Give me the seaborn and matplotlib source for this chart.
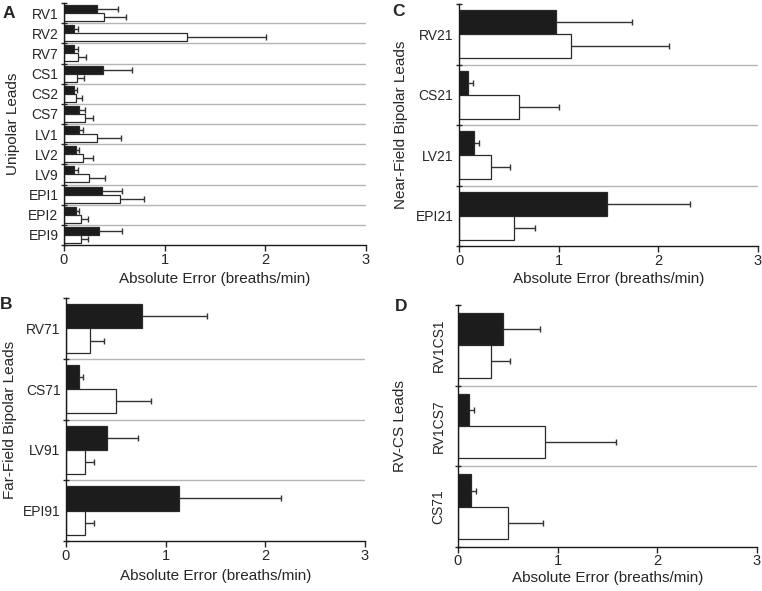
import pandas as pd
import seaborn as sns
import matplotlib.pyplot as plt

# ---- data ----
# A: unipolar leads
uni_leads = ['RV1', 'RV2', 'RV7', 'CS1', 'CS2', 'CS7', 'LV1', 'LV2', 'LV9', 'EPI1', 'EPI2', 'EPI9']
uni_black = [0.33, 0.10, 0.10, 0.39, 0.10, 0.15, 0.15, 0.12, 0.10, 0.38, 0.12, 0.35]
uni_black_err = [0.21, 0.04, 0.04, 0.29, 0.03, 0.06, 0.04, 0.03, 0.04, 0.20, 0.03, 0.23]
uni_white = [0.40, 1.22, 0.14, 0.13, 0.12, 0.21, 0.33, 0.19, 0.25, 0.56, 0.17, 0.17]
uni_white_err = [0.22, 0.79, 0.08, 0.07, 0.06, 0.08, 0.24, 0.10, 0.16, 0.23, 0.07, 0.07]

# B: far-field bipolar leads
far_leads = ['RV71', 'CS71', 'LV91', 'EPI91']
far_black = [0.76, 0.13, 0.41, 1.13]
far_black_err = [0.65, 0.04, 0.31, 1.03]
far_white = [0.24, 0.50, 0.19, 0.19]
far_white_err = [0.14, 0.35, 0.09, 0.09]

# C: near-field bipolar leads
near_leads = ['RV21', 'CS21', 'LV21', 'EPI21']
near_black = [0.97, 0.09, 0.15, 1.48]
near_black_err = [0.77, 0.05, 0.05, 0.84]
near_white = [1.12, 0.60, 0.32, 0.55]
near_white_err = [0.99, 0.40, 0.19, 0.21]

# D: RV-CS leads
rvcs_leads = ['RV1CS1', 'RV1CS7', 'CS71']
rvcs_black = [0.45, 0.11, 0.13]
rvcs_black_err = [0.37, 0.05, 0.05]
rvcs_white = [0.33, 0.87, 0.50]
rvcs_white_err = [0.19, 0.72, 0.35]

sns.set_style('ticks')
plt.rcParams['font.family'] = ['Liberation Sans', 'DejaVu Sans']

W, H = 762, 591
fig = plt.figure(figsize=(W / 100, H / 100), dpi=100)


def add_ax(left, right, top, bottom):
    # pixel box -> figure fractions
    return fig.add_axes([left / W, 1 - bottom / H, (right - left) / W, (bottom - top) / H])


def draw_panel(ax, leads, black, black_err, white, white_err, ylabel, letter,
               box, ylab_px, xlab_px, letter_px, rotate=False):
    n = len(leads)
    df = pd.DataFrame({
        'lead': leads * 2,
        'value': black + white,
        'series': ['filled'] * n + ['open'] * n,
    })
    sns.barplot(data=df, x='value', y='lead', hue='series', orient='h',
                palette={'filled': '#1c1c1c', 'open': 'white'},
                edgecolor='#2a2a2a', linewidth=0.9, width=0.8,
                errorbar=None, legend=False, ax=ax)

    # one-sided error bars from the bar ends
    errs = black_err + white_err
    for p, e in zip(ax.patches, errs):
        yc = p.get_y() + p.get_height() / 2
        xe = p.get_width()
        ax.hlines(yc, xe, xe + e, color='#333333', lw=1, zorder=3)
        ax.plot([xe + e], [yc], marker='|', ms=5, mew=1, color='#333333', zorder=3)

    for i in range(n - 1):
        ax.axhline(i + 0.5, color='#b5b5b5', lw=1, zorder=0)

    ax.set_xlim(0, 3)
    ax.set_ylim(n - 0.5, -0.5)
    ax.set_xticks([0, 1, 2, 3])
    ax.set_yticks([i - 0.5 for i in range(n + 1)], minor=True)
    ax.tick_params(axis='y', which='major', length=0, labelsize=10,
                   pad=9 if rotate else 4)
    ax.tick_params(axis='y', which='minor', direction='inout', length=5, width=1)
    ax.tick_params(axis='x', direction='out', length=4, width=1, labelsize=10.5,
                   pad=1 if rotate else 2)
    if rotate:
        ax.set_yticks(range(n))
        ax.set_yticklabels(leads, rotation=90, va='center')

    for s in ['top', 'right']:
        ax.spines[s].set_visible(False)
    for s in ['left', 'bottom']:
        ax.spines[s].set_color('#1a1a1a')
        ax.spines[s].set_linewidth(1)

    left, right, top, bottom = box
    ax.set_xlabel('Absolute Error (breaths/min)', fontsize=11)
    ax.set_ylabel(ylabel, fontsize=11)
    ax.xaxis.set_label_coords(0.5, (bottom - xlab_px) / (bottom - top))
    ax.yaxis.set_label_coords((ylab_px - left) / (right - left), 0.5)
    fig.text(letter_px[0] / W, 1 - letter_px[1] / H, letter, fontsize=12.5,
             fontweight='bold', ha='left', va='top')


box_a = (64, 366, 3, 245)
box_c = (459, 758, 4, 246)
box_b = (66, 365, 298, 541)
box_d = (458, 757, 305, 547)

ax_a = add_ax(*box_a)
ax_c = add_ax(*box_c)
ax_b = add_ax(*box_b)
ax_d = add_ax(*box_d)

draw_panel(ax_a, uni_leads, uni_black, uni_black_err, uni_white, uni_white_err,
           'Unipolar Leads', 'A', box_a, 20, 272, (3, 6))
draw_panel(ax_c, near_leads, near_black, near_black_err, near_white, near_white_err,
           'Near-Field Bipolar Leads', 'C', box_c, 408, 272, (392, 4))
draw_panel(ax_b, far_leads, far_black, far_black_err, far_white, far_white_err,
           'Far-Field Bipolar Leads', 'B', box_b, 17, 569, (0, 297))
draw_panel(ax_d, rvcs_leads, rvcs_black, rvcs_black_err, rvcs_white, rvcs_white_err,
           'RV-CS Leads', 'D', box_d, 407, 571, (395, 299), rotate=True)

fig.savefig('out.png', dpi=100)
